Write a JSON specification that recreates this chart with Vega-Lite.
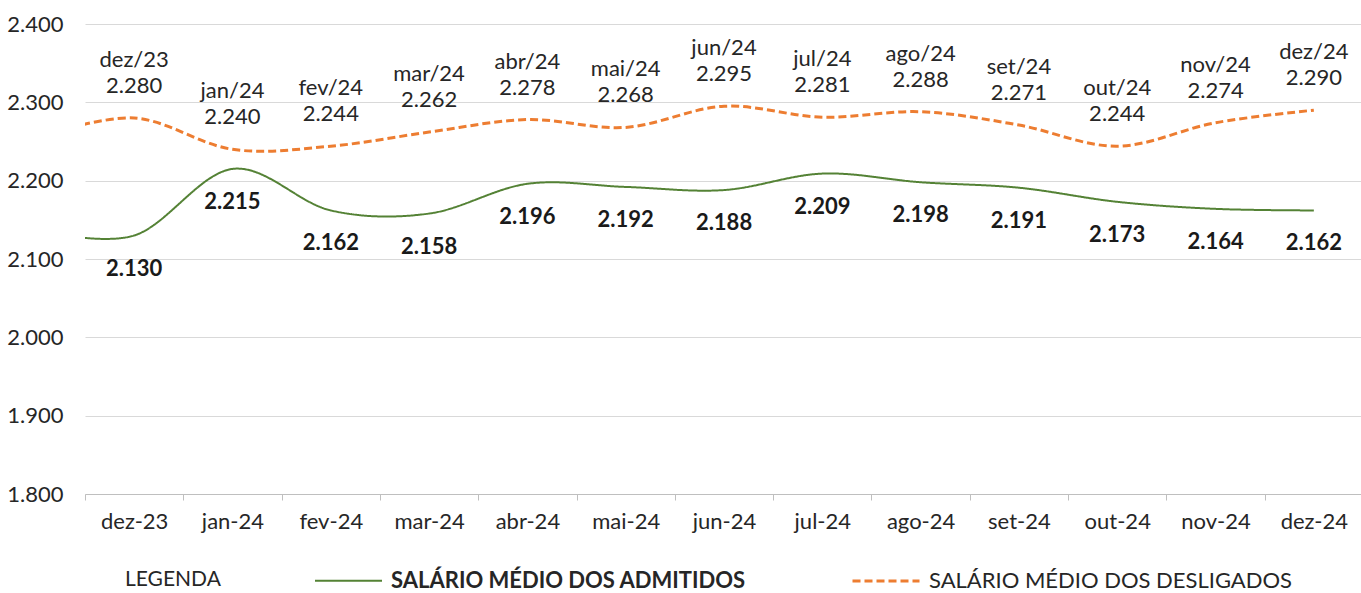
{
  "$schema": "https://vega.github.io/schema/vega-lite/v6.json",
  "width": 1278,
  "height": 470,
  "autosize": {"type": "none"},
  "padding": {"left": 85, "top": 24, "right": 0, "bottom": 99},
  "config": {
    "font": "Lato",
    "view": {"stroke": null},
    "locale": {"number": {"decimal": ",", "thousands": ".", "grouping": [3], "currency": ["R$", ""]}},
    "axis": {"labelColor": "#262626", "labelFont": "Lato"},
    "legend": {"labelFont": "Lato", "titleFont": "Lato"}
  },
  "data": {
    "values": [
      {"mes": "nov-23", "idx": -1, "serie": "SALÁRIO MÉDIO DOS ADMITIDOS", "valor": 2137},
      {"mes": "dez-23", "idx": 0, "serie": "SALÁRIO MÉDIO DOS ADMITIDOS", "valor": 2130},
      {"mes": "jan-24", "idx": 1, "serie": "SALÁRIO MÉDIO DOS ADMITIDOS", "valor": 2215},
      {"mes": "fev-24", "idx": 2, "serie": "SALÁRIO MÉDIO DOS ADMITIDOS", "valor": 2162},
      {"mes": "mar-24", "idx": 3, "serie": "SALÁRIO MÉDIO DOS ADMITIDOS", "valor": 2158},
      {"mes": "abr-24", "idx": 4, "serie": "SALÁRIO MÉDIO DOS ADMITIDOS", "valor": 2196},
      {"mes": "mai-24", "idx": 5, "serie": "SALÁRIO MÉDIO DOS ADMITIDOS", "valor": 2192},
      {"mes": "jun-24", "idx": 6, "serie": "SALÁRIO MÉDIO DOS ADMITIDOS", "valor": 2188},
      {"mes": "jul-24", "idx": 7, "serie": "SALÁRIO MÉDIO DOS ADMITIDOS", "valor": 2209},
      {"mes": "ago-24", "idx": 8, "serie": "SALÁRIO MÉDIO DOS ADMITIDOS", "valor": 2198},
      {"mes": "set-24", "idx": 9, "serie": "SALÁRIO MÉDIO DOS ADMITIDOS", "valor": 2191},
      {"mes": "out-24", "idx": 10, "serie": "SALÁRIO MÉDIO DOS ADMITIDOS", "valor": 2173},
      {"mes": "nov-24", "idx": 11, "serie": "SALÁRIO MÉDIO DOS ADMITIDOS", "valor": 2164},
      {"mes": "dez-24", "idx": 12, "serie": "SALÁRIO MÉDIO DOS ADMITIDOS", "valor": 2162},
      {"mes": "nov-23", "idx": -1, "serie": "SALÁRIO MÉDIO DOS DESLIGADOS", "valor": 2255},
      {"mes": "dez-23", "idx": 0, "serie": "SALÁRIO MÉDIO DOS DESLIGADOS", "valor": 2280, "rotulo": "dez/23"},
      {"mes": "jan-24", "idx": 1, "serie": "SALÁRIO MÉDIO DOS DESLIGADOS", "valor": 2240, "rotulo": "jan/24"},
      {"mes": "fev-24", "idx": 2, "serie": "SALÁRIO MÉDIO DOS DESLIGADOS", "valor": 2244, "rotulo": "fev/24"},
      {"mes": "mar-24", "idx": 3, "serie": "SALÁRIO MÉDIO DOS DESLIGADOS", "valor": 2262, "rotulo": "mar/24"},
      {"mes": "abr-24", "idx": 4, "serie": "SALÁRIO MÉDIO DOS DESLIGADOS", "valor": 2278, "rotulo": "abr/24"},
      {"mes": "mai-24", "idx": 5, "serie": "SALÁRIO MÉDIO DOS DESLIGADOS", "valor": 2268, "rotulo": "mai/24"},
      {"mes": "jun-24", "idx": 6, "serie": "SALÁRIO MÉDIO DOS DESLIGADOS", "valor": 2295, "rotulo": "jun/24"},
      {"mes": "jul-24", "idx": 7, "serie": "SALÁRIO MÉDIO DOS DESLIGADOS", "valor": 2281, "rotulo": "jul/24"},
      {"mes": "ago-24", "idx": 8, "serie": "SALÁRIO MÉDIO DOS DESLIGADOS", "valor": 2288, "rotulo": "ago/24"},
      {"mes": "set-24", "idx": 9, "serie": "SALÁRIO MÉDIO DOS DESLIGADOS", "valor": 2271, "rotulo": "set/24"},
      {"mes": "out-24", "idx": 10, "serie": "SALÁRIO MÉDIO DOS DESLIGADOS", "valor": 2244, "rotulo": "out/24"},
      {"mes": "nov-24", "idx": 11, "serie": "SALÁRIO MÉDIO DOS DESLIGADOS", "valor": 2274, "rotulo": "nov/24"},
      {"mes": "dez-24", "idx": 12, "serie": "SALÁRIO MÉDIO DOS DESLIGADOS", "valor": 2290, "rotulo": "dez/24"}
    ]
  },
  "encoding": {
    "y": {
      "field": "valor",
      "type": "quantitative",
      "scale": {"domain": [1800, 2400], "nice": false, "zero": false},
      "axis": {
        "title": null,
        "values": [1800, 1900, 2000, 2100, 2200, 2300, 2400],
        "format": ",.0f",
        "grid": true,
        "gridColor": "#d9d9d9",
        "gridWidth": 1,
        "domain": false,
        "ticks": false,
        "labelFontSize": 22,
        "labelPadding": 22
      }
    }
  },
  "layer": [
    {
      "mark": {"type": "line", "interpolate": "cardinal", "clip": true},
      "encoding": {
        "x": {
          "field": "idx",
          "type": "quantitative",
          "scale": {"domain": [-0.5, 12.5], "nice": false, "zero": false},
          "axis": null
        },
        "color": {
          "field": "serie",
          "type": "nominal",
          "scale": {"domain": ["SALÁRIO MÉDIO DOS ADMITIDOS", "SALÁRIO MÉDIO DOS DESLIGADOS"], "range": ["#548235", "#ED7D31"]},
          "legend": {
            "title": "LEGENDA",
            "orient": "none",
            "legendX": 40,
            "legendY": 522,
            "direction": "horizontal",
            "titleOrient": "left",
            "titleAnchor": "middle",
            "titleBaseline": "top",
            "titleFontSize": 21,
            "titleFontWeight": "normal",
            "titleColor": "#262626",
            "titlePadding": 93,
            "symbolType": "stroke",
            "symbolSize": 4489,
            "symbolStrokeWidth": 2.5,
            "labelFontSize": 22,
            "labelColor": "#262626",
            "labelOffset": 8,
            "labelLimit": 600,
            "columnPadding": 100,
            "encode": {"labels": {"update": {"fontWeight": {"signal": "indexof(datum.value, 'ADMITIDOS') >= 0 ? 'bold' : 'normal'"}}}}
          }
        },
        "strokeDash": {
          "field": "serie",
          "type": "nominal",
          "scale": {"domain": ["SALÁRIO MÉDIO DOS ADMITIDOS", "SALÁRIO MÉDIO DOS DESLIGADOS"], "range": [[1, 0], [8, 4]]},
          "legend": {
            "title": "LEGENDA",
            "orient": "none",
            "legendX": 40,
            "legendY": 522,
            "direction": "horizontal",
            "titleOrient": "left",
            "titleAnchor": "middle",
            "titleBaseline": "top",
            "titleFontSize": 21,
            "titleFontWeight": "normal",
            "titleColor": "#262626",
            "titlePadding": 93,
            "symbolType": "stroke",
            "symbolSize": 4489,
            "symbolStrokeWidth": 2.5,
            "labelFontSize": 22,
            "labelColor": "#262626",
            "labelOffset": 8,
            "labelLimit": 600,
            "columnPadding": 100,
            "encode": {"labels": {"update": {"fontWeight": {"signal": "indexof(datum.value, 'ADMITIDOS') >= 0 ? 'bold' : 'normal'"}}}}
          }
        },
        "strokeWidth": {
          "field": "serie",
          "type": "nominal",
          "scale": {"domain": ["SALÁRIO MÉDIO DOS ADMITIDOS", "SALÁRIO MÉDIO DOS DESLIGADOS"], "range": [2, 3]},
          "legend": null
        }
      }
    },
    {
      "transform": [{"filter": "datum.idx >= 0"}],
      "encoding": {
        "x": {
          "field": "mes",
          "type": "ordinal",
          "sort": null,
          "scale": {
            "type": "band",
            "domain": ["dez-23", "jan-24", "fev-24", "mar-24", "abr-24", "mai-24", "jun-24", "jul-24", "ago-24", "set-24", "out-24", "nov-24", "dez-24"],
            "paddingInner": 0,
            "paddingOuter": 0
          },
          "axis": {
            "orient": "bottom",
            "title": null,
            "tickBand": "extent",
            "labelAngle": 0,
            "labelFontSize": 22,
            "labelPadding": 11,
            "tickSize": 6,
            "domainColor": "#bfbfbf",
            "tickColor": "#bfbfbf",
            "grid": false
          }
        }
      },
      "layer": [
        {
          "transform": [{"filter": "datum.serie == 'SALÁRIO MÉDIO DOS DESLIGADOS'"}],
          "mark": {"type": "text", "dy": -58, "baseline": "middle", "fontSize": 22, "color": "#262626"},
          "encoding": {"text": {"field": "rotulo"}}
        },
        {
          "transform": [{"filter": "datum.serie == 'SALÁRIO MÉDIO DOS DESLIGADOS'"}],
          "mark": {"type": "text", "dy": -32, "baseline": "middle", "fontSize": 22, "color": "#262626"},
          "encoding": {"text": {"field": "valor", "type": "quantitative", "format": ",.0f"}}
        },
        {
          "transform": [{"filter": "datum.serie == 'SALÁRIO MÉDIO DOS ADMITIDOS'"}],
          "mark": {"type": "text", "dy": 33, "baseline": "middle", "fontSize": 22, "fontWeight": "bold", "color": "#1a1a1a"},
          "encoding": {"text": {"field": "valor", "type": "quantitative", "format": ",.0f"}}
        }
      ]
    }
  ],
  "resolve": {"scale": {"x": "independent"}}
}
